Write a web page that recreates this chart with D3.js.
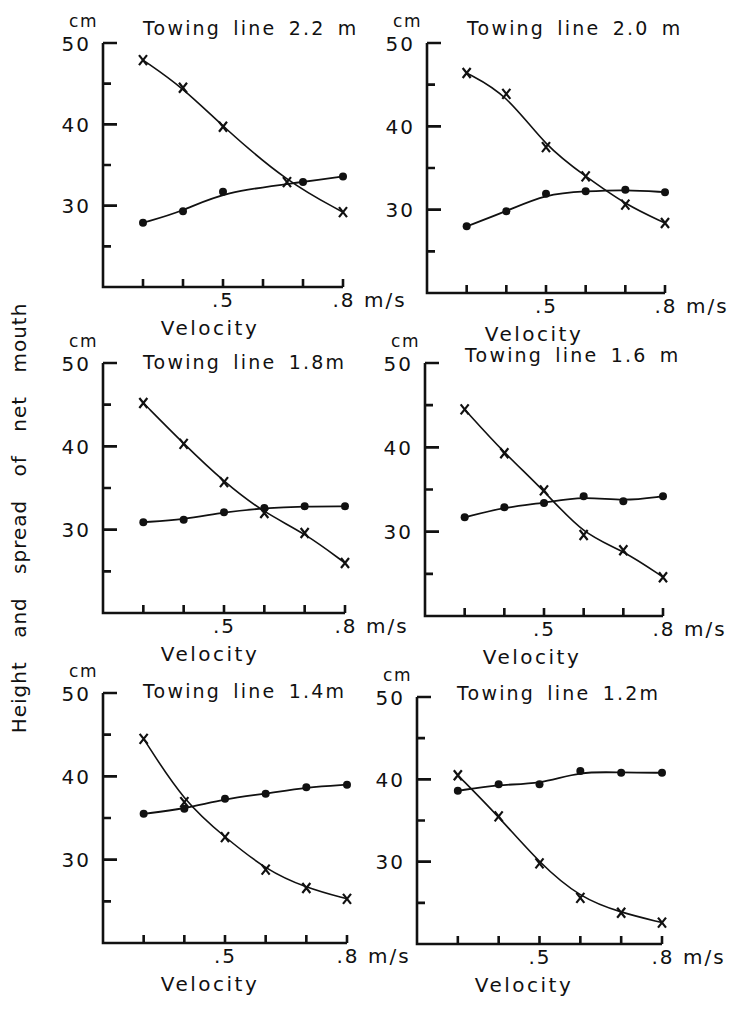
<!DOCTYPE html>
<html>
  <head>
    <title>Towing line</title>
    <meta charset="utf-8">
    <script src="https://d3js.org/d3.v7.min.js"></script>
    <style type="text/css">
      body { margin: 0; background: #fff; }
      #chart text {
        font-family: "DejaVu Sans", sans-serif;
        fill: #111;
      }
      #chart .axis text { font-size: 20px; letter-spacing: 2px; }
    </style>
  </head>
  <body>
    <svg id="chart"></svg>
    <script>
      // velocities (m/s) and readings (cm)
      var velocity = [0.3, 0.4, 0.5, 0.6, 0.7, 0.8];
      var velocity22Height = [0.3, 0.4, 0.5, 0.66, 0.8];
      var velocity22Spread = [0.3, 0.4, 0.5, 0.7, 0.8];

      var titles = ["Towing line 2.2 m", "Towing line 2.0 m", "Towing line 1.8m",
                    "Towing line 1.6 m", "Towing line 1.4m", "Towing line 1.2m"];

      var height22 = [47.9, 44.5, 39.7, 32.9, 29.2];
      var spread22 = [27.9, 29.3, 31.7, 32.9, 33.6];
      var height20 = [46.4, 43.9, 37.5, 34.0, 30.6, 28.4];
      var spread20 = [28.0, 29.8, 31.9, 32.2, 32.4, 32.1];
      var height18 = [45.2, 40.3, 35.7, 32.0, 29.6, 26.0];
      var spread18 = [30.9, 31.2, 32.1, 32.6, 32.8, 32.8];
      var height16 = [44.5, 39.3, 34.9, 29.6, 27.8, 24.6];
      var spread16 = [31.7, 32.9, 33.4, 34.2, 33.6, 34.2];
      var height14 = [44.5, 36.9, 32.7, 28.8, 26.6, 25.3];
      var spread14 = [35.5, 36.1, 37.3, 37.9, 38.7, 39.0];
      var height12 = [40.5, 35.5, 29.8, 25.6, 23.8, 22.6];
      var spread12 = [38.6, 39.4, 39.4, 41.0, 40.8, 40.8];

      var yTicks = [30, 40, 50];
      var yMinor = [25, 35, 45];
      var xTicks = [0.3, 0.4, 0.5, 0.6, 0.7, 0.8];

      // where each small panel sits on the page
      var frames = [
        { x0: 103, x1: 343, yT: 43,  yB: 287, titleY: 35 },
        { x0: 427, x1: 665, yT: 43,  yB: 293, titleY: 35 },
        { x0: 103, x1: 345, yT: 363, yB: 613, titleY: 369 },
        { x0: 425, x1: 663, yT: 363, yB: 616, titleY: 362 },
        { x0: 103, x1: 347, yT: 693, yB: 943, titleY: 698 },
        { x0: 417, x1: 662, yT: 697, yB: 944, titleY: 700 }
      ];

      var series = [
        { h: height22, hv: velocity22Height, s: spread22, sv: velocity22Spread },
        { h: height20, hv: velocity, s: spread20, sv: velocity },
        { h: height18, hv: velocity, s: spread18, sv: velocity },
        { h: height16, hv: velocity, s: spread16, sv: velocity },
        { h: height14, hv: velocity, s: spread14, sv: velocity },
        { h: height12, hv: velocity, s: spread12, sv: velocity }
      ];

      var svg = d3.select("#chart")
          .attr("width", 736)
          .attr("height", 1012);

      svg.append("rect").attr("width", 736).attr("height", 1012).attr("fill", "#fff");

      frames.forEach(function(f, i) {
        var x = d3.scaleLinear().domain([0.2, 0.8]).range([f.x0, f.x1]);
        var y = d3.scaleLinear().domain([20, 50]).range([f.yB, f.yT]);
        var g = svg.append("g");
        var ox = x(0.2), oy = y(20);

        // labels from d3.axis
        var ya = g.append("g").attr("class", "axis")
            .attr("transform", "translate(" + ox + ",0)")
            .call(d3.axisLeft(y).tickValues(yTicks).tickSizeInner(0).tickSizeOuter(0).tickPadding(12));
        ya.selectAll("text").attr("dy", "0.36em");
        ya.select(".domain").remove();

        var xa = g.append("g").attr("class", "axis")
            .attr("transform", "translate(0," + oy + ")")
            .call(d3.axisBottom(x).tickValues(xTicks).tickSizeInner(0).tickSizeOuter(0).tickPadding(6)
              .tickFormat(function(d) { return d === 0.5 ? ".5" : d === 0.8 ? ".8 m/s" : ""; }));
        xa.select(".domain").remove();
        xa.selectAll("text")
            .filter(function(d) { return d === 0.8; })
            .attr("text-anchor", "start")
            .attr("dx", -11);

        // axis frame with inward ticks, one path
        var frame = "M" + ox + "," + y(50) + "V" + oy + "H" + x(0.8);
        yTicks.forEach(function(d) { frame += "M" + ox + "," + y(d) + "H" + (ox + 14); });
        yMinor.forEach(function(d) { frame += "M" + ox + "," + y(d) + "H" + (ox + 8); });
        xTicks.forEach(function(d) { frame += "M" + x(d) + "," + oy + "V" + (oy - 8); });
        g.append("path").attr("d", frame)
            .attr("fill", "none").attr("stroke", "#111").attr("stroke-width", 2.6);

        g.append("text")
            .attr("x", ox - 5)
            .attr("y", y(50) - 16)
            .attr("text-anchor", "end")
            .style("font-size", "17px")
            .style("letter-spacing", "1.5px")
            .text("cm");

        g.append("text")
            .attr("x", ox + 40)
            .attr("y", f.titleY)
            .style("font-size", "19px")
            .style("letter-spacing", "2.2px")
            .style("word-spacing", "4px")
            .text(titles[i]);

        g.append("text")
            .attr("x", ox + 107)
            .attr("y", oy + 48)
            .attr("text-anchor", "middle")
            .style("font-size", "20px")
            .style("letter-spacing", "2.5px")
            .text("Velocity");

        var line = d3.line()
            .x(function(d) { return x(d[0]); })
            .y(function(d) { return y(d[1]); })
            .curve(d3.curveBasis);

        var s = series[i];
        var hPts = s.hv.map(function(v, k) { return [v, s.h[k]]; });
        var sPts = s.sv.map(function(v, k) { return [v, s.s[k]]; });

        g.append("path").attr("d", line(hPts))
            .attr("fill", "none").attr("stroke", "#111").attr("stroke-width", 1.6);
        g.append("path").attr("d", line(sPts))
            .attr("fill", "none").attr("stroke", "#111").attr("stroke-width", 1.8);

        g.selectAll(".cross").data(hPts).enter().append("path")
            .attr("class", "cross")
            .attr("transform", function(d) { return "translate(" + x(d[0]) + "," + y(d[1]) + ")"; })
            .attr("d", "M-4,-5L4,5M4,-5L-4,5")
            .attr("stroke", "#111").attr("stroke-width", 2.2);

        g.selectAll(".dot").data(sPts).enter().append("circle")
            .attr("class", "dot")
            .attr("cx", function(d) { return x(d[0]); })
            .attr("cy", function(d) { return y(d[1]); })
            .attr("r", 4)
            .attr("fill", "#111");
      });

      svg.append("text")
          .attr("transform", "translate(26,518) rotate(-90)")
          .attr("text-anchor", "middle")
          .style("font-size", "20px")
          .style("letter-spacing", "1px")
          .style("word-spacing", "16px")
          .text("Height and spread of net mouth");
    </script>
  </body>
</html>
